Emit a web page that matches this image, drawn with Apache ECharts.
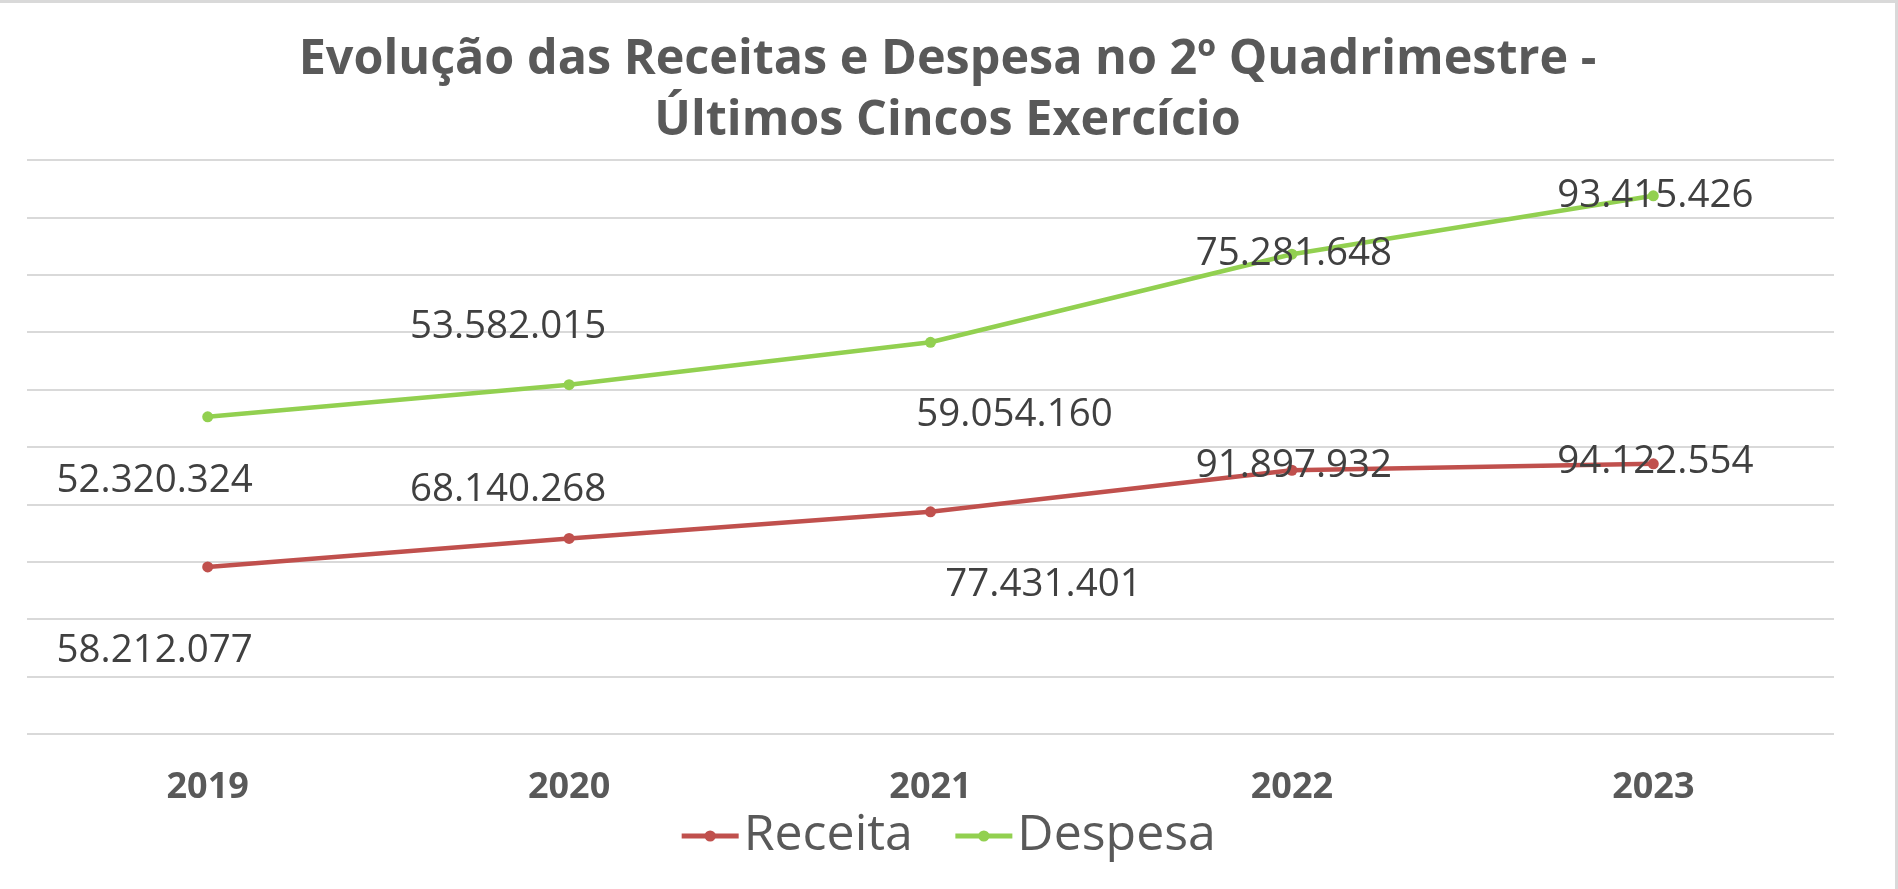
<!DOCTYPE html>
<html>
<head>
<meta charset="utf-8">
<script src="https://cdn.jsdelivr.net/npm/echarts@6/dist/echarts.min.js"></script>
<style>
  html, body { margin: 0; padding: 0; background: #fff; }
  #wrap { width: 1898px; height: 889px; box-sizing: border-box; border-top: 3px solid #d9d9d9; border-right: 3px solid #d9d9d9; }
  #chart { width: 100%; height: 100%; }
</style>
</head>
<body>
<div id="wrap"><div id="chart"></div></div>
<script>
// dados do gráfico (Excel: linhas empilhadas)
const anos = ['2019', '2020', '2021', '2022', '2023']
const receita = [58212077, 68140268, 77431401, 91897932, 94122554]
const despesa = [52320324, 53582015, 59054160, 75281648, 93415426]

// deslocamento dos rótulos em px (posição copiada do gráfico original)
const receitaOffset = [[-53, 84], [-61, -48], [113, 73], [2, -4], [2, -2]]
const despesaOffset = [[-53, 64], [-61, -58], [84, 73], [2, 0], [2, 0]]

const fonte = "'Open Sans', 'Liberation Sans', sans-serif"
const fmt = (v) => String(v).replace(/\B(?=(\d{3})+(?!\d))/g, '.')

const chart = echarts.init(document.getElementById('chart'))

const serie = (name, values, offsets, color) => ({
  name: name,
  type: 'line',
  stack: 'total',
  data: values.map((v, i) => ({ value: v, label: { offset: offsets[i] } })),
  symbol: 'circle',
  symbolSize: 11,
  itemStyle: { color: color },
  lineStyle: { color: color, width: 4.5 },
  label: {
    show: true,
    position: 'inside',
    color: '#404040',
    fontFamily: fonte,
    fontSize: 38.5,
    formatter: (p) => fmt(p.value),
  },
})

const option = {
  animation: false,
  title: {
    text: 'Evolução das Receitas e Despesa no 2º Quadrimestre -\nÚltimos Cincos Exercício',
    left: 'center',
    top: 22,
    textStyle: { color: '#595959', fontFamily: fonte, fontSize: 48.5, fontWeight: 'bold', lineHeight: 61 },
  },
  legend: {
    bottom: 23,
    left: 'center',
    itemWidth: 57,
    itemHeight: 14,
    itemGap: 40,
    lineStyle: { width: 5 },
    textStyle: { color: '#595959', fontFamily: fonte, fontSize: 50 },
    data: ['Receita', 'Despesa'],
  },
  grid: { left: 27, right: 61, top: 157, bottom: 155 },
  xAxis: {
    type: 'category',
    data: anos,
    boundaryGap: true,
    axisLine: { show: false },
    axisTick: { show: false },
    axisLabel: { color: '#595959', fontFamily: fonte, fontSize: 36, fontWeight: 'bold', margin: 36 },
  },
  yAxis: {
    type: 'value',
    min: 0,
    max: 200000000,
    interval: 20000000,
    axisLabel: { show: false },
    axisLine: { show: false },
    axisTick: { show: false },
    splitLine: { lineStyle: { color: '#d9d9d9', width: 2 } },
  },
  series: [
    serie('Receita', receita, receitaOffset, '#c0504d'),
    serie('Despesa', despesa, despesaOffset, '#92d050'),
  ],
}

chart.setOption(option)
</script>
</body>
</html>
